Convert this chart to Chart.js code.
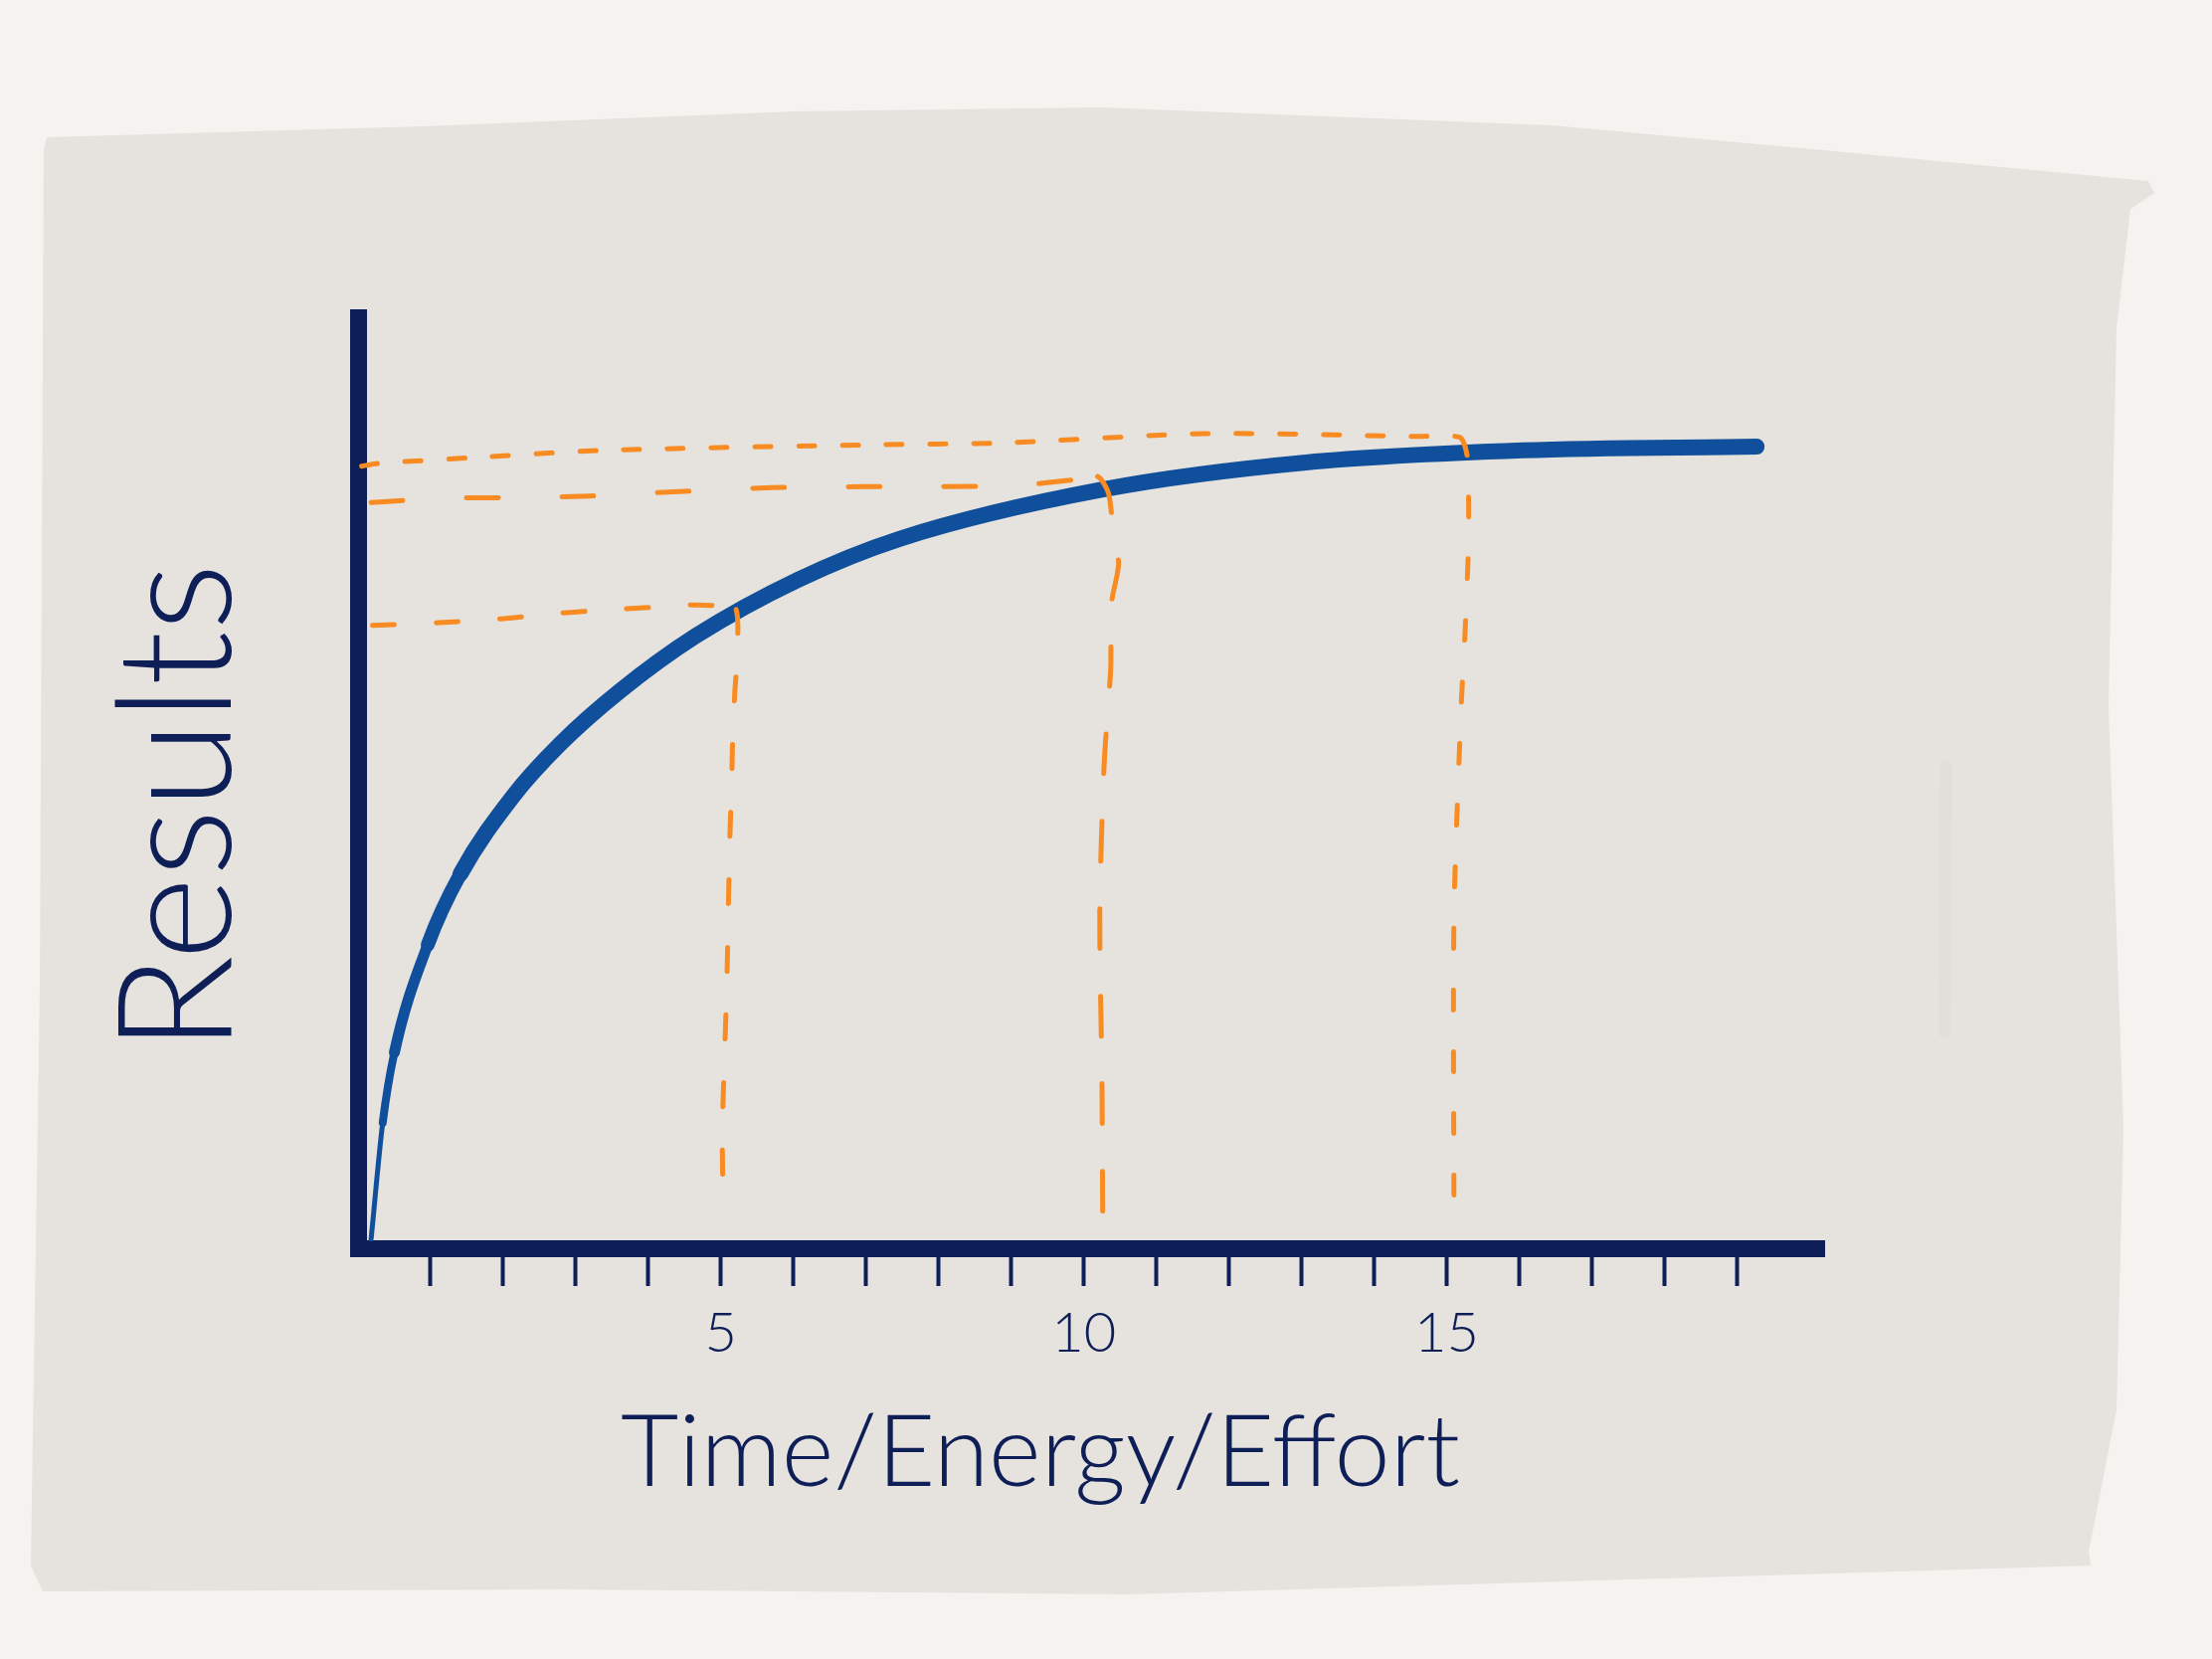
<!DOCTYPE html>
<html>
<head>
<meta charset="utf-8">
<title>Results vs Time/Energy/Effort</title>
<script src="https://cdn.jsdelivr.net/npm/chart.js@4.4.1/dist/chart.umd.min.js"></script>
<style>
  html, body { margin: 0; padding: 0; background: #f4f3ef; }
  canvas { display: block; }
</style>
</head>
<body>
<canvas id="chart" width="2224" height="1668"></canvas>
<script>
// --------------------- data ------------------------------
var curveX = [0.18, 0.34, 0.5, 0.96, 1.41, 2.13, 2.79, 3.6, 4.66, 6.06, 7.46, 10.26, 13.06, 16.05, 19.27];
var curveY = [1.0, 13.5, 21.0, 32.6, 40.2, 48.5, 54.2, 59.8, 65.8, 71.8, 76.2, 81.5, 84.4, 85.7, 86.1];

// guide at 5
var guideAX = [0.2, 1.12, 1.96, 2.74, 3.49, 4.17, 4.58, 4.98, 5.21, 5.22, 5.19, 5.16, 5.15, 5.12, 5.08, 5.02, 5.03];
var guideAY = [66.9, 67.2, 67.6, 68.2, 68.6, 68.9, 69.1, 69.0, 68.6, 63.2, 59.6, 54.3, 50.7, 43.2, 28, 12.8, 4.1];

// guide at 10
var guideBX = [0.18, 1.28, 2.17, 3.2, 4.49, 5.69, 6.97, 9.0, 9.92, 10.19, 10.34, 10.41, 10.48, 10.38, 10.37, 10.28, 10.22, 10.25, 10.26];
var guideBY = [80.1, 80.6, 80.6, 80.8, 81.3, 81.7, 81.8, 81.9, 82.6, 82.9, 81.1, 76.7, 73.5, 69.2, 62.2, 52, 36, 18, 3.0];

// guide at 15
var guideCX = [0.05, 0.27, 1.54, 3.37, 7.05, 8.86, 11.66, 14.6, 15.18, 15.28, 15.3, 15.3, 15.25, 15.2, 15.1, 15.1];
var guideCY = [84.0, 84.3, 84.9, 85.7, 86.3, 86.5, 87.5, 87.2, 87.1, 85.2, 81.7, 75.6, 65.7, 58.3, 35.6, 1.8];

var labelledTicks = [5, 10, 15];
var xTitle = 'Time/Energy/Effort';
var yTitle = 'Results';

// --------------------- style ------------------------------
var navy = '#0e1e57';
var blue = '#104f9b';
var orange = '#f88c22';
var handFont = 'Lato, "Open Sans", "DejaVu Sans", sans-serif';

function pts(xs, ys) {
  return xs.map(function (x, i) { return { x: x, y: ys[i] }; });
}

function guide(xs, ys, hDash, vDash) {
  return {
    data: pts(xs, ys),
    showLine: true,
    borderColor: orange,
    borderWidth: 5,
    borderCapStyle: 'round',
    borderJoinStyle: 'round',
    pointRadius: 0,
    tension: 0.25,
    segment: {
      borderDash: function (ctx) {
        var dx = Math.abs(ctx.p1.x - ctx.p0.x), dy = Math.abs(ctx.p1.y - ctx.p0.y);
        return dy > dx ? vDash : hDash;
      }
    }
  };
}

// thin start of the pen stroke
var taper = [5, 8, 11, 14];

// paper sheet + faint mark behind the chart
var paper = {
  id: 'paper',
  beforeDraw: function (chart) {
    var c = chart.ctx;
    c.save();
    c.fillStyle = '#f4f3ef';
    c.fillRect(0, 0, chart.width, chart.height);
    var edge = [[47,138],[425,127],[800,112],[1106,108],[1560,126],[1844,152],[2160,182],[2166,194],
      [2142,210],[2128,330],[2120,709],[2135,1135],[2128,1418],[2100,1560],[2102,1574],[1844,1582],
      [1135,1603],[567,1598],[43,1600],[31,1574],[40,993],[44,150]];
    c.beginPath();
    edge.forEach(function (p, i) { i ? c.lineTo(p[0], p[1]) : c.moveTo(p[0], p[1]); });
    c.closePath();
    c.fillStyle = '#e6e3de';
    c.fill();
    c.strokeStyle = '#e2dfda';
    c.lineWidth = 12;
    c.lineCap = 'round';
    c.beginPath();
    c.moveTo(1957, 770);
    c.lineTo(1955, 1038);
    c.stroke();
    c.restore();
  }
};

// hand lettered axis titles
function fitSize(c, text, width, weight) {
  c.font = weight + ' 100px ' + handFont;
  return 100 * width / c.measureText(text).width;
}

var handTitles = {
  id: 'handTitles',
  afterDraw: function (chart) {
    var c = chart.ctx;
    c.save();
    c.fillStyle = navy;
    c.textBaseline = 'alphabetic';
    c.textAlign = 'left';

    var s = fitSize(c, xTitle, 844, 300);
    c.font = '300 ' + s + 'px ' + handFont;
    c.fillText(xTitle, 624, 1494);

    s = fitSize(c, yTitle, 492, 300);
    c.font = '300 ' + s + 'px ' + handFont;
    c.translate(232, 1058);
    c.rotate(-Math.PI / 2);
    c.fillText(yTitle, 0, 0);
    c.restore();
  }
};

function isTick(v) {
  return Number.isInteger(v) && v >= 1 && v <= 19;
}

var chart = new Chart(document.getElementById('chart'), {
  type: 'scatter',
  data: {
    datasets: [
      guide(guideAX, guideAY, [22, 42], [24, 44]),
      guide(guideBX, guideBY, [32, 64], [40, 48]),
      guide(guideCX, guideCY, [16, 28], [20, 42]),
      {
        data: pts(curveX, curveY),
        showLine: true,
        borderColor: blue,
        borderWidth: 16,
        borderCapStyle: 'round',
        borderJoinStyle: 'round',
        pointRadius: 0,
        cubicInterpolationMode: 'monotone',
        segment: {
          borderWidth: function (ctx) {
            return ctx.p0DataIndex < taper.length ? taper[ctx.p0DataIndex] : 16;
          }
        }
      }
    ]
  },
  options: {
    responsive: false,
    animation: false,
    devicePixelRatio: 1,
    layout: { padding: { top: 319, right: 390, bottom: 0, left: 0 } },
    plugins: {
      legend: { display: false },
      tooltip: { enabled: false }
    },
    scales: {
      x: {
        type: 'linear',
        min: 0,
        max: 20.2,
        afterFit: function (s) { s.height = 413; },
        border: { display: true, color: navy, width: 17 },
        grid: {
          display: true,
          drawOnChartArea: false,
          drawTicks: true,
          tickLength: 38,
          tickWidth: 4,
          tickColor: function (ctx) {
            return ctx.tick && isTick(ctx.tick.value) ? navy : 'rgba(0,0,0,0)';
          }
        },
        ticks: {
          stepSize: 1,
          autoSkip: false,
          maxRotation: 0,
          padding: 14,
          color: navy,
          font: { family: handFont, size: 56, weight: 300 },
          callback: function (v) { return labelledTicks.indexOf(v) >= 0 ? String(v) : ''; }
        }
      },
      y: {
        type: 'linear',
        min: 0,
        max: 100,
        afterFit: function (s) { s.width = 360; },
        border: { display: true, color: navy, width: 17 },
        grid: { display: false },
        ticks: { display: false }
      }
    }
  },
  plugins: [paper, handTitles]
});
</script>
</body>
</html>
